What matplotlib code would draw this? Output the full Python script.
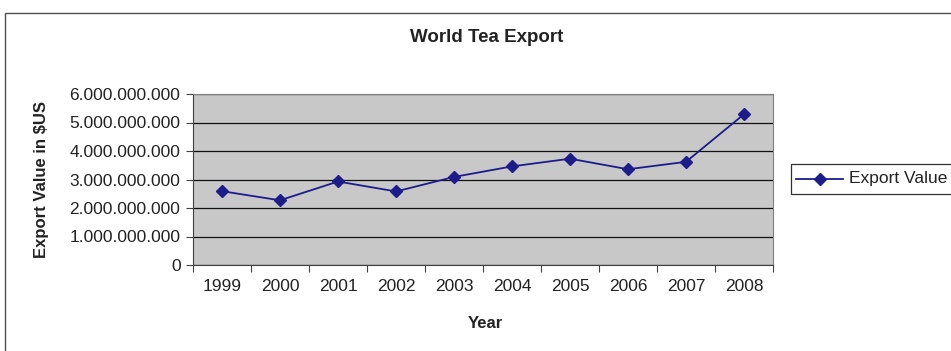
import matplotlib
matplotlib.use("Agg")
import matplotlib.pyplot as plt
from matplotlib.ticker import FuncFormatter, FixedLocator
from matplotlib.patches import Rectangle
from matplotlib.lines import Line2D

years = ["1999", "2000", "2001", "2002", "2003", "2004", "2005", "2006", "2007", "2008"]
export_values = [2.59e9, 2.27e9, 2.93e9, 2.58e9, 3.09e9, 3.46e9, 3.73e9, 3.36e9, 3.62e9, 5.29e9]
y_ticks = [0, 1e9, 2e9, 3e9, 4e9, 5e9, 6e9]

plt.rcParams['font.family'] = ['Liberation Sans', 'DejaVu Sans']
txt_color = '#222222'

fig = plt.figure(figsize=(9.51, 3.51), dpi=100)
W, H = 951, 351

# chart border
fig.patches.append(Rectangle((5 / W, -0.05), 1.0, 1 - 13 / H + 0.05, transform=fig.transFigure,
                             fill=False, edgecolor='#505050', linewidth=1.0))

ax = fig.add_axes([193 / W, 1 - 265 / H, (773 - 193) / W, (265 - 94) / H])
ax.set_facecolor('#C8C8C8')
x = list(range(len(years)))
ax.plot(x, export_values, color='#1c1c8a', marker='D', markersize=6.5, linewidth=1.3,
        markerfacecolor='#1c1c8a', markeredgecolor='#1c1c8a', zorder=3)

ax.set_xlim(-0.5, len(years) - 0.5)
ax.set_ylim(0, 6e9)
ax.yaxis.set_major_locator(FixedLocator(y_ticks))
ax.yaxis.set_major_formatter(FuncFormatter(lambda v, p: f"{int(round(v)):,}".replace(",", ".")))
ax.grid(axis='y', color='#111111', linewidth=0.9)
ax.set_axisbelow(True)

ax.set_xticks([i - 0.5 for i in range(len(years) + 1)])
ax.set_xticklabels([])
ax.set_xticks(x, minor=True)
ax.set_xticklabels(years, minor=True, fontsize=12.5, color=txt_color)
ax.tick_params(axis='x', which='minor', length=0, pad=10)
ax.tick_params(axis='x', which='major', length=5, color='#404040')
ax.tick_params(axis='y', length=5, color='#404040', labelsize=12.5, pad=4, labelcolor=txt_color)

for s in ['top', 'right']:
    ax.spines[s].set_color('#808080')
for s in ['left', 'bottom']:
    ax.spines[s].set_color('#404040')

fig.text(487 / W, 1 - 37 / H, "World Tea Export", ha='center', va='center',
         fontsize=13.5, fontweight='bold', color=txt_color)
fig.text(485 / W, 1 - 323 / H, "Year", ha='center', va='center',
         fontsize=12, fontweight='bold', color=txt_color)
fig.text(42 / W, 1 - 180 / H, "Export Value in $US", ha='center', va='center',
         rotation=90, fontsize=12, fontweight='bold', color=txt_color)

# legend
fig.patches.append(Rectangle((791 / W, 1 - 194 / H), 0.2, 30 / H, transform=fig.transFigure,
                             fill=True, facecolor='white', edgecolor='#303030', linewidth=0.9))
ly = 1 - 179 / H
fig.lines.append(Line2D([796 / W, 843 / W], [ly, ly], transform=fig.transFigure,
                        color='#1c1c8a', linewidth=1.3))
fig.lines.append(Line2D([820 / W], [ly], transform=fig.transFigure, color='#1c1c8a',
                        marker='D', markersize=6.5, linestyle='none'))
fig.text(849 / W, ly, "Export Value", ha='left', va='center', fontsize=12.5, color=txt_color)

fig.savefig("out.png", dpi=100)
